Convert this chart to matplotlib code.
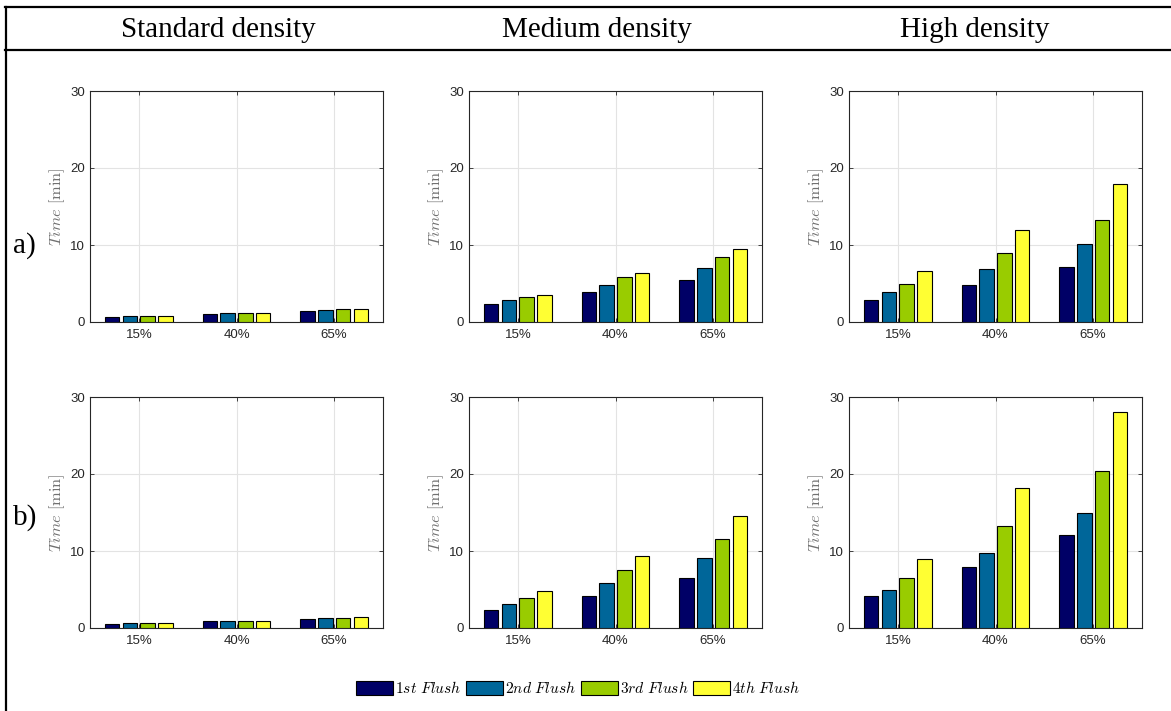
import matplotlib
matplotlib.use('Agg')
import matplotlib.pyplot as plt
import numpy as np
from matplotlib.lines import Line2D

plt.rcParams['mathtext.fontset'] = 'cm'

# ---------------------------------------------------

groups = ['15%', '40%', '65%']
flushes = [r'$1st\ Flush$', r'$2nd\ Flush$', r'$3rd\ Flush$', r'$4th\ Flush$']
col_titles = ['Standard density', 'Medium density', 'High density']
row_labels = ['a)', 'b)']
colors = ['#000066', '#006699', '#99cc00', '#ffff33']

# rows = flush number, columns = 15%, 40%, 65%
std_a = [[0.7, 1.1, 1.45],
         [0.8, 1.2, 1.6],
         [0.8, 1.2, 1.65],
         [0.8, 1.2, 1.7]]
med_a = [[2.3, 3.9, 5.5],
         [2.8, 4.8, 7.0],
         [3.3, 5.8, 8.5],
         [3.5, 6.4, 9.5]]
high_a = [[2.8, 4.8, 7.1],
          [3.9, 6.9, 10.1],
          [5.0, 8.9, 13.2],
          [6.6, 12.0, 17.9]]
std_b = [[0.5, 0.85, 1.2],
         [0.6, 0.95, 1.3],
         [0.6, 0.95, 1.35],
         [0.6, 0.95, 1.4]]
med_b = [[2.3, 4.2, 6.45],
         [3.1, 5.9, 9.1],
         [3.9, 7.5, 11.6],
         [4.8, 9.4, 14.5]]
high_b = [[4.1, 7.95, 12.1],
          [4.9, 9.8, 15.0],
          [6.5, 13.3, 20.4],
          [8.9, 18.2, 28.0]]

data = [[std_a, med_a, high_a],
        [std_b, med_b, high_b]]

# ---------------------------------------------------

W, H = 1171, 711
fig = plt.figure(figsize=(W / 100, H / 100), dpi=100)

col_left = [90, 469, 849]
row_bottom = [322, 628]
ax_w, ax_h = 293, 231

x = np.arange(1, len(groups) + 1)
pitch = 0.182
bw = 0.15
tick_col = '#262626'

handles = []
for r in range(2):
    for c in range(3):
        ax = fig.add_axes([col_left[c] / W, 1 - row_bottom[r] / H, ax_w / W, ax_h / H])
        vals = data[r][c]
        for k in range(4):
            b = ax.bar(x + (k - 1.5) * pitch, vals[k], bw, color=colors[k],
                       edgecolor='black', linewidth=0.8, zorder=3, label=flushes[k])
            if r == 0 and c == 0:
                handles.append(b)
        ax.set_xlim(0.5, 3.5)
        ax.set_ylim(0, 30)
        ax.set_xticks(x)
        ax.set_xticklabels(groups)
        ax.set_yticks([0, 10, 20, 30])
        ax.grid(True, color='#e3e3e3', linewidth=0.8, zorder=0)
        ax.tick_params(direction='in', length=3, width=0.6, colors=tick_col,
                       labelsize=9.5, top=True, right=True, pad=3.5)
        ax.tick_params(axis='x', pad=5)
        for lab in ax.get_xticklabels() + ax.get_yticklabels():
            lab.set_family('Liberation Sans')
        for s in ax.spines.values():
            s.set_color(tick_col)
            s.set_linewidth(0.8)
        ax.set_ylabel(r'$Time\ \mathrm{[min]}$', fontsize=11.8, color='#707070', labelpad=2)

# table header lines and border
lw = 1.6
fig.add_artist(Line2D([5 / W, 1], [1 - 7 / H, 1 - 7 / H], color='black', linewidth=lw))
fig.add_artist(Line2D([5 / W, 1], [1 - 50 / H, 1 - 50 / H], color='black', linewidth=lw))
fig.add_artist(Line2D([6 / W, 6 / W], [0, 1 - 7 / H], color='black', linewidth=lw))

title_x = [218, 597, 975]
for t, tx in zip(col_titles, title_x):
    fig.text(tx / W, 1 - 30 / H, t, ha='center', va='center',
             family='Liberation Serif', fontsize=21)

row_y = [246, 518]
for t, ry in zip(row_labels, row_y):
    fig.text(13 / W, 1 - ry / H, t, ha='left', va='center',
             family='Liberation Serif', fontsize=21)

fig.legend(handles=handles, labels=flushes, loc='center', ncol=4,
           bbox_to_anchor=(578 / W, 1 - 688 / H), frameon=False, fontsize=11.2,
           handlelength=2.4, handleheight=1.0, handletextpad=0.1, columnspacing=0.3)

fig.savefig('out.png', dpi=100)
